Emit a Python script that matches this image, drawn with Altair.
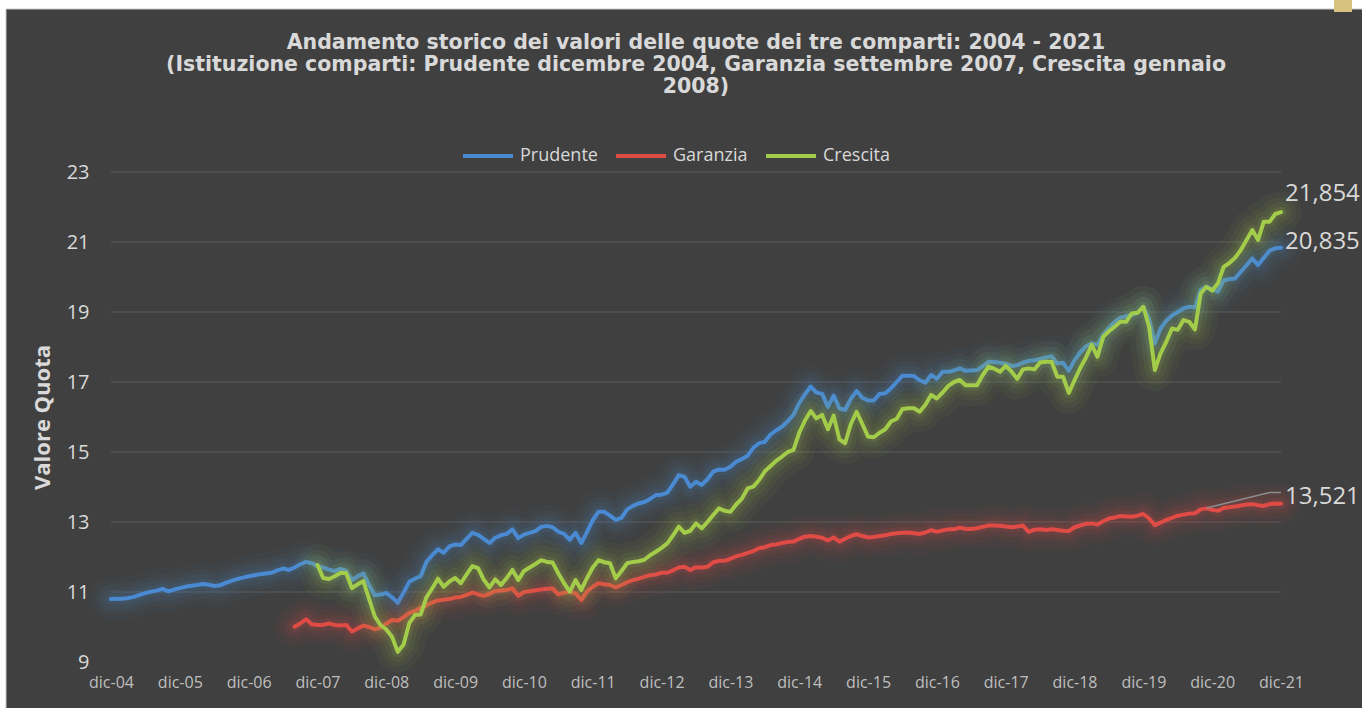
import json
import altair as alt
import pandas as pd

# ---------------- data ----------------
tick_labels = ["dic-04", "dic-05", "dic-06", "dic-07", "dic-08", "dic-09", "dic-10",
               "dic-11", "dic-12", "dic-13", "dic-14", "dic-15", "dic-16", "dic-17",
               "dic-18", "dic-19", "dic-20", "dic-21"]

series_names = ["Prudente", "Garanzia", "Crescita"]
series_colors = ["#4a8ad2", "#e04b45", "#a2cc4a"]

# monthly values, Dec 2004 .. Dec 2021
prudente = [10.80,
    10.81, 10.81, 10.83, 10.86, 10.92, 10.97, 11.01, 11.04, 11.09, 11.02, 11.07, 11.11,
    11.15, 11.18, 11.20, 11.23, 11.21, 11.17, 11.19, 11.26, 11.32, 11.37, 11.41, 11.45,
    11.48, 11.51, 11.53, 11.55, 11.62, 11.67, 11.63, 11.70, 11.79, 11.86, 11.82, 11.74,
    11.70, 11.64, 11.60, 11.66, 11.60, 11.34, 11.45, 11.53, 11.20, 10.91, 10.93, 10.97,
    10.85, 10.69, 10.98, 11.29, 11.38, 11.45, 11.86, 12.05, 12.22, 12.12, 12.30, 12.36,
    12.34, 12.52, 12.69, 12.63, 12.52, 12.40, 12.55, 12.62, 12.66, 12.79, 12.54, 12.64,
    12.69, 12.74, 12.86, 12.89, 12.85, 12.72, 12.66, 12.49, 12.69, 12.40, 12.72, 13.05,
    13.29, 13.29, 13.18, 13.06, 13.12, 13.36, 13.46, 13.53, 13.57, 13.66, 13.77, 13.78,
    13.84, 14.08, 14.34, 14.29, 14.01, 14.15, 14.06, 14.22, 14.44, 14.50, 14.49, 14.58,
    14.72, 14.80, 14.89, 15.12, 15.25, 15.29, 15.50, 15.62, 15.72, 15.88, 16.06, 16.40,
    16.65, 16.87, 16.70, 16.66, 16.29, 16.61, 16.25, 16.20, 16.52, 16.74, 16.55, 16.47,
    16.47, 16.66, 16.68, 16.82, 17.00, 17.18, 17.18, 17.17, 17.05, 16.98, 17.20, 17.09,
    17.29, 17.29, 17.33, 17.39, 17.32, 17.33, 17.34, 17.45, 17.58, 17.57, 17.55, 17.52,
    17.46, 17.48, 17.55, 17.60, 17.62, 17.66, 17.70, 17.74, 17.53, 17.55, 17.32, 17.62,
    17.85, 18.02, 18.10, 18.06, 18.35, 18.55, 18.72, 18.84, 18.88, 18.92, 18.98, 19.15,
    18.80, 18.10, 18.53, 18.75, 18.90, 19.00, 19.10, 19.15, 19.13, 19.63, 19.72, 19.65,
    19.58, 19.90, 19.94, 19.96, 20.15, 20.34, 20.53, 20.34, 20.55, 20.75, 20.82, 20.835]

# monthly values, Aug 2007 .. Dec 2021
garanzia_start = 32
garanzia = [10.01, 10.10, 10.22, 10.08, 10.06,
    10.06, 10.10, 10.06, 10.04, 10.06, 9.87, 9.96, 10.04, 10.00, 9.93, 9.98, 10.10,
    10.20, 10.18, 10.28, 10.40, 10.46, 10.55, 10.62, 10.70, 10.76, 10.78, 10.80, 10.84,
    10.86, 10.92, 10.98, 10.93, 10.89, 10.95, 11.03, 11.04, 11.06, 11.10, 10.89, 11.00,
    11.02, 11.05, 11.07, 11.09, 11.10, 10.93, 10.98, 11.01, 10.96, 10.77, 11.02, 11.15,
    11.25, 11.22, 11.20, 11.13, 11.20, 11.28, 11.34, 11.38, 11.43, 11.48, 11.50, 11.55,
    11.55, 11.62, 11.70, 11.72, 11.63, 11.71, 11.70, 11.72, 11.85, 11.89, 11.89, 11.95,
    12.02, 12.06, 12.12, 12.17, 12.25, 12.28, 12.34, 12.36, 12.40, 12.43, 12.44, 12.52,
    12.58, 12.60, 12.58, 12.55, 12.47, 12.56, 12.44, 12.52, 12.60, 12.65, 12.60, 12.56,
    12.57, 12.60, 12.62, 12.66, 12.68, 12.69, 12.70, 12.68, 12.66, 12.70, 12.77, 12.72,
    12.76, 12.79, 12.79, 12.84, 12.80, 12.80, 12.82, 12.86, 12.90, 12.90, 12.89, 12.87,
    12.85, 12.87, 12.90, 12.72, 12.78, 12.79, 12.77, 12.79, 12.77, 12.75, 12.74, 12.85,
    12.90, 12.95, 12.96, 12.93, 13.02, 13.10, 13.13, 13.17, 13.16, 13.15, 13.18, 13.23,
    13.10, 12.91, 12.98, 13.06, 13.12, 13.18, 13.21, 13.24, 13.25, 13.36, 13.39, 13.35,
    13.32, 13.40, 13.42, 13.44, 13.47, 13.50, 13.51, 13.48, 13.46, 13.51, 13.53, 13.521]

# monthly values, Dec 2007 .. Dec 2021
crescita_start = 36
crescita = [11.77,
    11.40, 11.37, 11.45, 11.54, 11.54, 11.11, 11.22, 11.31, 10.80, 10.30, 10.05, 9.93,
    9.72, 9.29, 9.49, 10.11, 10.34, 10.36, 10.85, 11.10, 11.38, 11.15, 11.30, 11.40,
    11.25, 11.50, 11.74, 11.68, 11.35, 11.13, 11.36, 11.20, 11.40, 11.63, 11.34, 11.60,
    11.70, 11.80, 11.91, 11.86, 11.84, 11.53, 11.25, 11.01, 11.34, 11.06, 11.40, 11.70,
    11.91, 11.85, 11.82, 11.39, 11.60, 11.82, 11.86, 11.88, 11.92, 12.05, 12.15, 12.26,
    12.39, 12.62, 12.87, 12.69, 12.75, 12.96, 12.82, 13.00, 13.20, 13.39, 13.32, 13.29,
    13.50, 13.67, 13.96, 14.01, 14.20, 14.45, 14.60, 14.75, 14.87, 15.00, 15.06, 15.55,
    15.90, 16.17, 15.96, 16.06, 15.65, 16.04, 15.36, 15.25, 15.80, 16.15, 15.80, 15.44,
    15.42, 15.55, 15.65, 15.87, 15.95, 16.23, 16.25, 16.25, 16.15, 16.35, 16.63, 16.53,
    16.70, 16.89, 17.00, 17.06, 16.91, 16.91, 16.91, 17.20, 17.44, 17.38, 17.29, 17.46,
    17.30, 17.09, 17.36, 17.39, 17.36, 17.56, 17.58, 17.58, 17.15, 17.15, 16.69, 17.05,
    17.40, 17.70, 18.06, 17.72, 18.29, 18.45, 18.58, 18.72, 18.72, 18.96, 18.98, 19.15,
    18.58, 17.34, 17.82, 18.15, 18.53, 18.49, 18.77, 18.72, 18.50, 19.53, 19.72, 19.61,
    19.82, 20.29, 20.40, 20.55, 20.77, 21.06, 21.34, 21.06, 21.58, 21.58, 21.80, 21.854]

end_labels = ["21,854", "20,835", "13,521"]

# leader line of the Garanzia data label
leader_m = [191, 202, 204]
leader_v = [13.40, 13.84, 13.84]

y_ticks = [9, 11, 13, 15, 17, 19, 21, 23]
grid_values = [11, 13, 15, 17, 19, 21, 23]

# ---------------- table ----------------
rows = []
for i, v in enumerate(prudente):
    rows.append({"m": i, "v": v, "serie": "Prudente"})
for i, v in enumerate(garanzia):
    rows.append({"m": garanzia_start + i, "v": v, "serie": "Garanzia"})
for i, v in enumerate(crescita):
    rows.append({"m": crescita_start + i, "v": v, "serie": "Crescita"})
df = pd.DataFrame(rows)

last_m = len(prudente) - 1
ends = pd.DataFrame({
    "m": [last_m, last_m, last_m],
    "v": [crescita[-1], prudente[-1], garanzia[-1]],
    "t": end_labels,
})
leader = pd.DataFrame({"m": leader_m, "v": leader_v})
grid_df = pd.DataFrame({"v": grid_values})

FONT = "Open Sans"
TXT = "#d9d9d9"
BG = "#404040"

x_enc = alt.X(
    "m:Q",
    scale=alt.Scale(domain=[0, last_m], nice=False, zero=False),
    axis=alt.Axis(
        values=list(range(0, last_m + 1, 12)),
        labelExpr=json.dumps(tick_labels) + "[round(datum.value / 12)]",
        grid=False, ticks=False, domain=False, title=None,
        labelFont=FONT, labelFontSize=16, labelColor="#bfbfbf",
        labelPadding=12, labelOverlap=False, labelFlush=False, zindex=1,
    ),
)
y_enc = alt.Y(
    "v:Q",
    scale=alt.Scale(domain=[9, 23], nice=False, zero=False),
    axis=alt.Axis(
        values=y_ticks, grid=False, ticks=False, domain=False,
        labelFont=FONT, labelFontSize=20, labelColor=TXT, labelPadding=22,
        title="Valore Quota", titleFont=FONT, titleFontSize=22, titleFontWeight="bold",
        titleColor=TXT, titlePadding=12, zindex=1,
    ),
)

color_scale = alt.Scale(domain=series_names, range=series_colors)

one = pd.DataFrame({"k": [0]})
layers = []
# chart area panel (white page margin at top/left, dark panel, small accent block)
layers.append(
    alt.Chart(one).mark_rect(color=BG, stroke="#c8c8c8", strokeWidth=1).encode(
        x=alt.value(-105), x2=alt.value(1260), y=alt.value(-163), y2=alt.value(545))
)
layers.append(
    alt.Chart(one).mark_rect(color="#d8c27f").encode(
        x=alt.value(1223), x2=alt.value(1241), y=alt.value(-172), y2=alt.value(-160))
)
# horizontal gridlines
layers.append(
    alt.Chart(grid_df).mark_rule(color="#5a5a5a", strokeWidth=1.2).encode(
        y=alt.Y("v:Q", scale=alt.Scale(domain=[9, 23], nice=False, zero=False)))
)

for name, col in zip(series_names, series_colors):
    base = alt.Chart(df).transform_filter(alt.datum.serie == name)
    for w, o in [(42, 0.045), (30, 0.06), (20, 0.08), (11, 0.11)]:
        layers.append(
            base.mark_line(strokeWidth=w, opacity=o, color=col,
                           strokeJoin="round", strokeCap="round")
            .encode(x=x_enc, y=y_enc)
        )
    layers.append(
        base.mark_line(strokeWidth=4, strokeJoin="round", strokeCap="round")
        .encode(
            x=x_enc, y=y_enc,
            color=alt.Color("serie:N", scale=color_scale, sort=series_names,
                            legend=alt.Legend(title=None, zindex=1)),
        )
    )

leader_layer = alt.Chart(leader).mark_line(color="#8c8c8c", strokeWidth=1.5).encode(
    x="m:Q", y="v:Q")
layers.append(leader_layer)

dys = [-18, -6, -7]
for i in range(3):
    layers.append(
        alt.Chart(ends.iloc[[i]]).mark_text(
            align="left", baseline="middle", dx=4, dy=dys[i],
            font=FONT, fontSize=24, color=TXT,
        ).encode(x="m:Q", y="v:Q", text="t:N")
    )

chart = alt.layer(*layers).properties(
    width=1170, height=490,
    padding={"left": 111, "top": 172, "right": 81, "bottom": 46},
    autosize=alt.AutoSizeParams(type="none"),
    background="white",
    title=alt.TitleParams(
        text=["Andamento storico dei valori delle quote dei tre comparti: 2004 - 2021",
              "(Istituzione comparti: Prudente dicembre 2004, Garanzia settembre 2007, Crescita gennaio",
              "2008)"],
        font="DejaVu Sans", fontSize=20.5, fontWeight="bold", color=TXT,
        anchor="middle", lineHeight=22, offset=-97, zindex=1,
    ),
).configure_view(stroke=None).configure_legend(
    orient="none", legendX=350, legendY=-43, direction="horizontal",
    labelFont=FONT, labelFontSize=18, labelColor=TXT,
    symbolType="stroke", symbolStrokeWidth=4, symbolSize=2500,
    columnPadding=10, labelOffset=5,
)

chart.save("out.html", embed_options={"renderer": "svg", "actions": False})
